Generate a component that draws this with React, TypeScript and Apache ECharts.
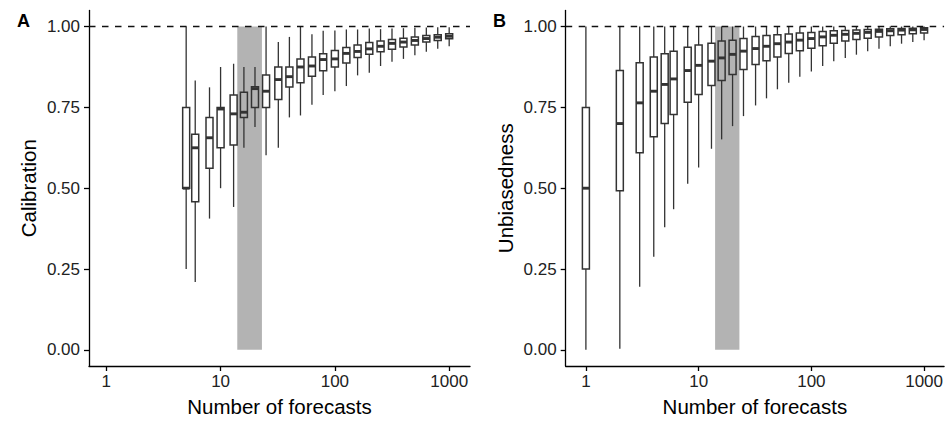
import React, { useEffect, useRef } from 'react';
import * as echarts from 'echarts';

// Panel A: Calibration
const forecastsA = [5, 6, 8, 10, 13, 16, 20, 25, 32, 40, 50, 63, 79, 100, 126, 158, 200, 251, 316, 398, 501, 631, 794, 1000];
const calMin = [0.25, 0.21, 0.406, 0.5, 0.442, 0.625, 0.689, 0.602, 0.625, 0.719, 0.725, 0.758, 0.788, 0.8, 0.816, 0.849, 0.857, 0.878, 0.891, 0.9, 0.911, 0.922, 0.931, 0.939];
const calQ1 = [0.5, 0.458, 0.562, 0.625, 0.634, 0.719, 0.75, 0.75, 0.774, 0.813, 0.826, 0.846, 0.863, 0.875, 0.887, 0.904, 0.914, 0.922, 0.93, 0.937, 0.943, 0.952, 0.957, 0.962];
const calMed = [0.5, 0.625, 0.656, 0.745, 0.73, 0.735, 0.808, 0.8, 0.836, 0.845, 0.875, 0.878, 0.898, 0.9, 0.917, 0.923, 0.931, 0.939, 0.948, 0.952, 0.957, 0.963, 0.967, 0.97];
const calQ3 = [0.75, 0.667, 0.719, 0.75, 0.788, 0.797, 0.814, 0.85, 0.875, 0.875, 0.9, 0.906, 0.916, 0.926, 0.935, 0.943, 0.951, 0.955, 0.96, 0.964, 0.968, 0.972, 0.975, 0.978];
const calMax = [1.0, 0.833, 0.812, 0.875, 0.885, 0.875, 0.875, 1.0, 0.952, 0.968, 1.0, 0.976, 0.987, 0.988, 0.991, 0.991, 0.994, 0.992, 0.994, 0.995, 0.996, 0.997, 0.998, 0.998];

// Panel B: Unbiasedness
const forecastsB = [1, 2, 3, 4, 5, 6, 8, 10, 13, 16, 20, 25, 32, 40, 50, 63, 79, 100, 126, 158, 200, 251, 316, 398, 501, 631, 794, 1000];
const unbMin = [0, 0.003, 0.195, 0.288, 0.379, 0.435, 0.514, 0.564, 0.622, 0.651, 0.692, 0.723, 0.756, 0.778, 0.806, 0.826, 0.845, 0.861, 0.878, 0.893, 0.903, 0.913, 0.924, 0.931, 0.939, 0.947, 0.952, 0.958];
const unbQ1 = [0.25, 0.492, 0.61, 0.659, 0.7, 0.728, 0.766, 0.79, 0.818, 0.833, 0.852, 0.867, 0.883, 0.894, 0.906, 0.917, 0.925, 0.933, 0.941, 0.948, 0.955, 0.96, 0.964, 0.968, 0.972, 0.975, 0.978, 0.98];
const unbMed = [0.5, 0.7, 0.764, 0.8, 0.821, 0.838, 0.864, 0.88, 0.893, 0.903, 0.914, 0.924, 0.932, 0.939, 0.947, 0.952, 0.958, 0.963, 0.968, 0.973, 0.976, 0.979, 0.982, 0.985, 0.987, 0.989, 0.99, 0.991];
const unbQ3 = [0.75, 0.864, 0.888, 0.906, 0.916, 0.924, 0.936, 0.943, 0.948, 0.955, 0.958, 0.963, 0.969, 0.972, 0.975, 0.977, 0.98, 0.982, 0.985, 0.987, 0.988, 0.989, 0.991, 0.992, 0.993, 0.994, 0.995, 0.996];
const unbMax = [1, 1, 1, 1, 1, 1, 1, 1, 1, 1, 1, 1, 1, 1, 1, 1, 1, 1, 1, 1, 1, 1, 1, 1, 1, 1, 1, 1];

// Shaded band (number of forecasts range) and reference line
const bandRange = [14, 23];
const bandY = [0, 1];
const referenceY = 1;

const xTicks = [1, 10, 100, 1000];
const yTicks = [0, 0.25, 0.5, 0.75, 1];

const FONT = '"Liberation Sans", Arial, Helvetica, sans-serif';
const INK = '#333333';

function boxRows(ns: number[], mn: number[], q1: number[], md: number[], q3: number[], mx: number[]) {
  return ns.map((n, i) => [n, mn[i], q1[i], md[i], q3[i], mx[i]]);
}

const renderBox = (params: any, api: any) => {
  const x = api.value(0);
  const lo = api.coord([x, api.value(1)]);
  const q1 = api.coord([x, api.value(2)]);
  const md = api.coord([x, api.value(3)]);
  const q3 = api.coord([x, api.value(4)]);
  const hi = api.coord([x, api.value(5)]);
  const w = 7;
  const cx = md[0];
  return {
    type: 'group',
    children: [
      { type: 'line', shape: { x1: cx, y1: lo[1], x2: cx, y2: q1[1] }, style: { stroke: INK, lineWidth: 1.3 } },
      { type: 'line', shape: { x1: cx, y1: q3[1], x2: cx, y2: hi[1] }, style: { stroke: INK, lineWidth: 1.3 } },
      {
        type: 'rect',
        shape: { x: cx - w / 2, y: q3[1], width: w, height: q1[1] - q3[1] },
        style: { fill: 'none', stroke: INK, lineWidth: 1.5 },
      },
      { type: 'line', shape: { x1: cx - w / 2, y1: md[1], x2: cx + w / 2, y2: md[1] }, style: { stroke: INK, lineWidth: 2.9 } },
    ],
  };
};

const renderBand = (params: any, api: any) => {
  const p0 = api.coord([api.value(0), api.value(2)]);
  const p1 = api.coord([api.value(1), api.value(3)]);
  return {
    type: 'rect',
    shape: { x: p0[0], y: p1[1], width: p1[0] - p0[0], height: p0[1] - p1[1] },
    style: { fill: '#b3b3b3' },
  };
};

function makeXAxis(gridIndex: number, min: number, max: number) {
  return {
    type: 'log',
    logBase: 10,
    gridIndex,
    min,
    max,
    axisLine: { onZero: false, lineStyle: { color: '#000', width: 1.3 } },
    axisTick: { show: true, length: 5, customValues: xTicks, lineStyle: { color: '#000', width: 1.3 } },
    axisLabel: {
      customValues: xTicks,
      fontSize: 17,
      color: '#222',
      fontFamily: FONT,
      margin: 7,
      formatter: (v: number) => String(Math.round(v)),
    },
    splitLine: { show: false },
    minorTick: { show: false },
    name: 'Number of forecasts',
    nameLocation: 'middle',
    nameGap: 30,
    nameTextStyle: { fontSize: 20.5, color: '#000', fontFamily: FONT },
  };
}

function makeYAxis(gridIndex: number, name: string) {
  return {
    type: 'value',
    gridIndex,
    min: -0.05,
    max: 1.05,
    axisLine: { show: true, onZero: false, lineStyle: { color: '#000', width: 1.3 } },
    axisTick: { show: true, length: 5, customValues: yTicks, lineStyle: { color: '#000', width: 1.3 } },
    axisLabel: {
      customValues: yTicks,
      fontSize: 17,
      color: '#222',
      fontFamily: FONT,
      margin: 9,
      formatter: (v: number) => v.toFixed(2),
    },
    splitLine: { show: false },
    name,
    nameLocation: 'middle',
    nameGap: 50,
    nameTextStyle: { fontSize: 20.5, color: '#000', fontFamily: FONT },
  };
}

function panelSeries(idx: number, rows: number[][]) {
  return [
    {
      type: 'custom',
      xAxisIndex: idx,
      yAxisIndex: idx,
      z: 1,
      silent: true,
      renderItem: renderBand,
      encode: { x: [0, 1], y: [2, 3] },
      data: [[bandRange[0], bandRange[1], bandY[0], bandY[1]]],
    },
    {
      type: 'custom',
      xAxisIndex: idx,
      yAxisIndex: idx,
      z: 3,
      silent: true,
      renderItem: renderBox,
      encode: { x: 0, y: [1, 2, 3, 4, 5] },
      data: rows,
      markLine: {
        silent: true,
        symbol: ['none', 'none'],
        label: { show: false },
        lineStyle: { type: [6.5, 6.5], color: '#111', width: 1.4 },
        data: [{ yAxis: referenceY }],
      },
    },
  ];
}

export default function App() {
  const ref = useRef<HTMLDivElement>(null);
  useEffect(() => {
    if (!ref.current) return;
    const chart = echarts.init(ref.current, undefined, { renderer: 'svg' });
    const rowsA = boxRows(forecastsA, calMin, calQ1, calMed, calQ3, calMax);
    const rowsB = boxRows(forecastsB, unbMin, unbQ1, unbMed, unbQ3, unbMax);
    chart.setOption({
      animation: false,
      backgroundColor: '#ffffff',
      title: [
        { text: 'A', left: 12, top: 7, textStyle: { fontSize: 18, fontWeight: 'bold', color: '#000', fontFamily: FONT } },
        { text: 'B', left: 488, top: 7, textStyle: { fontSize: 18, fontWeight: 'bold', color: '#000', fontFamily: FONT } },
      ],
      grid: [
        { left: 89, right: 476, top: 10.4, bottom: 54.4 },
        { left: 565.7, right: 0, top: 10.4, bottom: 54.4 },
      ],
      xAxis: [makeXAxis(0, 0.706, 1521), makeXAxis(1, 0.662, 1504)],
      yAxis: [makeYAxis(0, 'Calibration'), makeYAxis(1, 'Unbiasedness')],
      series: [...panelSeries(0, rowsA), ...panelSeries(1, rowsB)],
    });
    return () => chart.dispose();
  }, []);
  return <div ref={ref} style={{ position: 'absolute', left: 0, top: 0, width: 946, height: 422 }} />;
}
